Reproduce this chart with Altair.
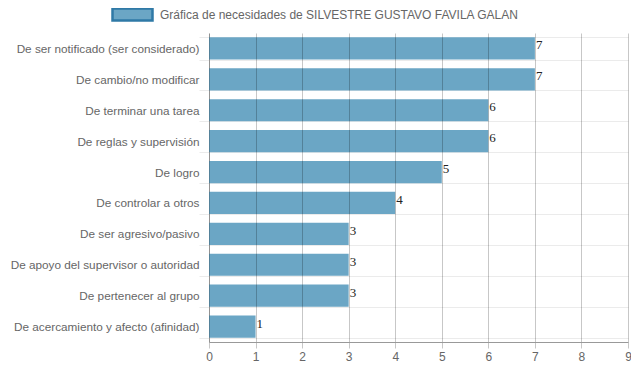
import altair as alt
import pandas as pd

categorias = [
    "De ser notificado (ser considerado)",
    "De cambio/no modificar",
    "De terminar una tarea",
    "De reglas y supervisión",
    "De logro",
    "De controlar a otros",
    "De ser agresivo/pasivo",
    "De apoyo del supervisor o autoridad",
    "De pertenecer al grupo",
    "De acercamiento y afecto (afinidad)",
]
valores = [7, 7, 6, 6, 5, 4, 3, 3, 3, 1]
serie = "Gráfica de necesidades de SILVESTRE GUSTAVO FAVILA GALAN"

df = pd.DataFrame({"cat": categorias, "val": valores, "serie": [serie] * len(valores)})

FONT = "Liberation Sans"

y_enc = alt.Y(
    "cat:N",
    sort=categorias,
    title=None,
    scale=alt.Scale(paddingInner=0.28, paddingOuter=0.14),
    axis=alt.Axis(
        tickBand="extent",
        grid=True,
        gridColor="#000000",
        gridOpacity=0.08,
        tickColor="#000000",
        tickOpacity=0.08,
        tickSize=10,
        labelPadding=0,
        domainColor="#bbbbbb",
        labelColor="#666666",
        labelFont=FONT,
        labelFontSize=11.75,
        labelLimit=300,
    ),
)

bars = alt.Chart(df).mark_bar(opacity=1).encode(
    x=alt.X(
        "val:Q",
        title=None,
        scale=alt.Scale(domain=[0, 9], nice=False),
        axis=alt.Axis(
            values=list(range(10)),
            grid=True,
            gridColor="#000000",
            gridOpacity=0.22,
            tickColor="#000000",
            tickOpacity=0.22,
            tickSize=6,
            labelPadding=3,
            labelFlush=False,
            labelOverlap=False,
            domainColor="#999999",
            labelColor="#666666",
            labelFont=FONT,
            labelFontSize=12,
            zindex=1,
        ),
    ),
    y=y_enc,
    color=alt.Color(
        "serie:N",
        scale=alt.Scale(range=["#6ba6c5"]),
        legend=alt.Legend(
            title=None,
            orient="none",
            legendX=-98,
            legendY=-40,
            symbolType="M-1,-0.3L1,-0.3L1,0.3L-1,0.3Z",
            symbolSize=1600,
            symbolStrokeColor="#2f79a6",
            symbolStrokeWidth=2.5,
            symbolOpacity=1,
            labelFont=FONT,
            labelFontSize=12,
            labelColor="#666666",
            labelOffset=6,
            labelLimit=500,
        ),
    ),
)

labels = alt.Chart(df).mark_text(
    align="left", baseline="middle", dx=1, dy=-3,
    font="Liberation Serif", fontSize=13, color="#222222",
).encode(
    x="val:Q",
    y=alt.Y("cat:N", sort=categorias),
    text="val:Q",
)

chart = (
    alt.layer(bars, labels)
    .properties(
        width=419,
        height=309,
        autosize=alt.AutoSizeParams(type="none"),
        padding={"left": 201, "top": 25, "right": 3, "bottom": 22},
    )
    .configure_view(stroke=None)
)

chart.save("out.html", embed_options={"renderer": "svg", "actions": False})
